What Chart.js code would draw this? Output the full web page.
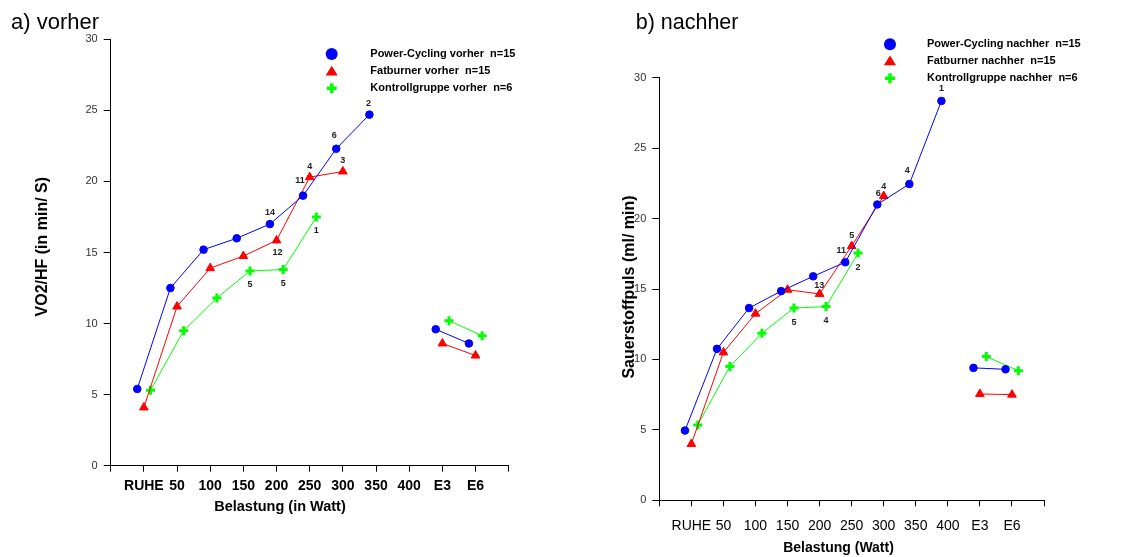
<!DOCTYPE html>
<html>
<head>
<meta charset="utf-8">
<script src="https://cdn.jsdelivr.net/npm/chart.js@4"></script>
<style>
  body { margin: 0; background: #fff; }
  canvas { position: absolute; top: 0; }
  #chartA { left: 0; }
  #chartB { left: 570px; }
</style>
</head>
<body>
<canvas id="chartA" width="570" height="557"></canvas>
<canvas id="chartB" width="575" height="557"></canvas>
<script>
// categories along the x axis
const categories = ["RUHE", "50", "100", "150", "200", "250", "300", "350", "400", "E3", "E6"];
const yTicks = [0, 5, 10, 15, 20, 25, 30];

// a) vorher
const pcVorher = [5.4, 12.5, 15.2, 16.0, 17.0, 19.0, 22.3, 24.7, null, 9.6, 8.6];
const fbVorher = [4.1, 11.2, 13.9, 14.75, 15.85, 20.3, 20.7, null, null, 8.6, 7.75];
const kgVorher = [5.3, 9.5, 11.8, 13.7, 13.8, 17.5, null, null, null, 10.2, 9.15];
// n per point (only shown where it drops)
const nPcVorher = [null, null, null, null, 14, 11, 6, 2, null, null, null];
const nFbVorher = [null, null, null, null, 12, 4, 3, null, null, null, null];
const nKgVorher = [null, null, null, 5, 5, 1, null, null, null, null, null];

// b) nachher
const pcNachher = [4.95, 10.75, 13.65, 14.85, 15.9, 16.9, 21.0, 22.45, 28.35, 9.4, 9.3];
const fbNachher = [4.0, 10.5, 13.25, 14.95, 14.65, 18.05, 21.6, null, null, 7.55, 7.5];
const kgNachher = [5.35, 9.5, 11.85, 13.65, 13.75, 17.55, null, null, null, 10.2, 9.2];
const nPcNachher = [null, null, null, null, 13, 11, 6, 4, 1, null, null];
const nFbNachher = [null, null, null, null, null, 5, 4, null, null, null, null];
const nKgNachher = [null, null, null, 5, 4, 2, null, null, null, null, null];

// group styles: small horizontal shift so the markers don't overlap
const groups = [
  { color: "#0000ff", style: "circle", radius: 3.8, pbw: 1, shift: -0.2, dy: -12, legendR: 6 },
  { color: "#ff0000", style: "triangle", radius: 5, pbw: 1, shift: 0, dy: -11, legendR: 7 },
  { color: "#00ff00", style: "cross", radius: 4.5, pbw: 3, shift: 0.2, dy: 14, legendR: 5 }
];

const FONT = "Arial, 'Liberation Sans', sans-serif";

function makeDataset(values, g) {
  return {
    data: values.map((v, i) => ({ x: i + 1 + g.shift, y: v })),
    borderColor: g.color,
    backgroundColor: g.color,
    borderWidth: 1,
    pointStyle: g.style,
    pointRadius: g.radius,
    pointBorderWidth: g.pbw,
    pointBackgroundColor: g.color,
    pointBorderColor: g.color,
    spanGaps: false,
    // no line from the last load step to the recovery values
    segment: {
      borderColor: (ctx) => (ctx.p0.parsed.x < 9.5 && ctx.p1.parsed.x > 9.5 ? "rgba(0,0,0,0)" : undefined)
    }
  };
}

function drawMarker(ctx, style, x, y, r, color) {
  ctx.save();
  ctx.fillStyle = color;
  ctx.strokeStyle = color;
  ctx.beginPath();
  if (style === "circle") {
    ctx.arc(x, y, r, 0, Math.PI * 2);
    ctx.fill();
  } else if (style === "triangle") {
    ctx.moveTo(x, y - r * 0.8);
    ctx.lineTo(x + r * 0.866, y + r * 0.6);
    ctx.lineTo(x - r * 0.866, y + r * 0.6);
    ctx.closePath();
    ctx.fill();
  } else {
    ctx.lineWidth = 3.5;
    ctx.moveTo(x - r, y); ctx.lineTo(x + r, y);
    ctx.moveTo(x, y - r); ctx.lineTo(x, y + r);
    ctx.stroke();
  }
  ctx.restore();
}

function decorations(cfg) {
  return {
    id: "decor",
    afterDatasetsDraw(chart) {
      const ctx = chart.ctx;
      ctx.save();
      ctx.fillStyle = "#000";
      // title
      ctx.font = cfg.titleSize + "px " + FONT;
      ctx.textAlign = "left";
      ctx.textBaseline = "alphabetic";
      ctx.fillText(cfg.title, cfg.titleX, 28.5);
      // axis titles
      ctx.font = "bold " + cfg.xTitleSize + "px " + FONT;
      ctx.textAlign = "center";
      ctx.textBaseline = "middle";
      ctx.fillText(cfg.xTitle, cfg.xTitlePos[0], cfg.xTitlePos[1]);
      ctx.save();
      ctx.translate(cfg.yTitlePos[0], cfg.yTitlePos[1]);
      ctx.rotate(-Math.PI / 2);
      ctx.font = "bold 16px " + FONT;
      ctx.fillText(cfg.yTitle, 0, 0);
      ctx.restore();
      // n labels
      ctx.font = "bold 9px " + FONT;
      ctx.fillStyle = "#222";
      cfg.counts.forEach((arr, s) => {
        const meta = chart.getDatasetMeta(s);
        arr.forEach((n, i) => {
          if (n === null) return;
          const p = meta.data[i];
          const o = cfg.labelOffsets[s + ":" + i] || [0, groups[s].dy];
          ctx.fillText(String(n), p.x + o[0], p.y + o[1]);
        });
      });
      // legend
      ctx.font = "bold 11px " + FONT;
      ctx.textAlign = "left";
      ctx.fillStyle = "#000";
      cfg.legend.forEach((label, s) => {
        const y = cfg.legendY[s];
        const g = groups[s];
        drawMarker(ctx, g.style, cfg.legendX, y, g.legendR, g.color);
        ctx.fillText(label, cfg.legendTextX, y);
      });
      ctx.restore();
    }
  };
}

function makeChart(id, series, cfg) {
  return new Chart(document.getElementById(id), {
    type: "line",
    data: { datasets: series.map((v, s) => makeDataset(v, groups[s])) },
    options: {
      responsive: false,
      animation: false,
      layout: { padding: { left: 0, top: cfg.area.top, right: cfg.width - cfg.area.right, bottom: 0 } },
      plugins: { legend: { display: false }, tooltip: { enabled: false } },
      scales: {
        x: {
          type: "linear",
          min: 0,
          max: 12,
          afterBuildTicks: (s) => { s.ticks = Array.from({ length: 13 }, (_, v) => ({ value: v })); },
          afterFit: (s) => { s.height = cfg.height - cfg.area.bottom; },
          ticks: {
            callback: (v) => categories[Math.round(v) - 1] || "",
            autoSkip: false,
            maxRotation: 0,
            color: "#000",
            padding: cfg.xPad,
            font: { family: FONT, size: 14, weight: cfg.xBold ? "bold" : "normal" }
          },
          grid: { drawOnChartArea: false, tickLength: 6, color: "#000" },
          border: { color: "#000", width: 1 }
        },
        y: {
          min: 0,
          max: 30,
          afterBuildTicks: (s) => { s.ticks = yTicks.map((v) => ({ value: v })); },
          afterFit: (s) => { s.width = cfg.area.left; },
          ticks: { color: "#333", padding: 6, font: { family: FONT, size: 11 } },
          grid: { drawOnChartArea: false, tickLength: 7, color: "#000" },
          border: { color: "#000", width: 1 }
        }
      }
    },
    plugins: [decorations(cfg)]
  });
}

makeChart("chartA", [pcVorher, fbVorher, kgVorher], {
  width: 570, height: 557,
  area: { left: 110.7, right: 508.7, top: 39.3, bottom: 465.7 },
  xPad: 6, xBold: true,
  title: "a) vorher", titleX: 11, titleSize: 22,
  xTitle: "Belastung (in Watt)", xTitleSize: 14.5, xTitlePos: [280, 506.7],
  yTitle: "VO2/HF (in min/ S)", yTitlePos: [43, 246.7],
  counts: [nPcVorher, nFbVorher, nKgVorher],
  labelOffsets: { "0:5": [-3, -15], "1:4": [1, 12], "0:6": [-2, -13], "0:7": [-1, -11] },
  legend: ["Power-Cycling vorher  n=15", "Fatburner vorher  n=15", "Kontrollgruppe vorher  n=6"],
  legendX: 331.7, legendTextX: 370.3, legendY: [54, 71.3, 88.3]
});

makeChart("chartB", [pcNachher, fbNachher, kgNachher], {
  width: 575, height: 557,
  area: { left: 89.3, right: 474, top: 77.7, bottom: 500.3 },
  xPad: 11, xBold: false,
  title: "b) nachher", titleX: 65.7, titleSize: 21.5,
  xTitle: "Belastung (Watt)", xTitleSize: 14, xTitlePos: [268.5, 547.7],
  yTitle: "Sauerstoffpuls (ml/ min)", yTitlePos: [60, 287],
  counts: [nPcNachher, nFbNachher, nKgNachher],
  labelOffsets: { "0:4": [6, 9], "0:5": [-4, -12], "0:6": [1, -11], "0:7": [-2, -14], "1:6": [0, -10] },
  legend: ["Power-Cycling nachher  n=15", "Fatburner nachher  n=15", "Kontrollgruppe nachher  n=6"],
  legendX: 320, legendTextX: 357, legendY: [44.3, 61, 78.3]
});
</script>
</body>
</html>
